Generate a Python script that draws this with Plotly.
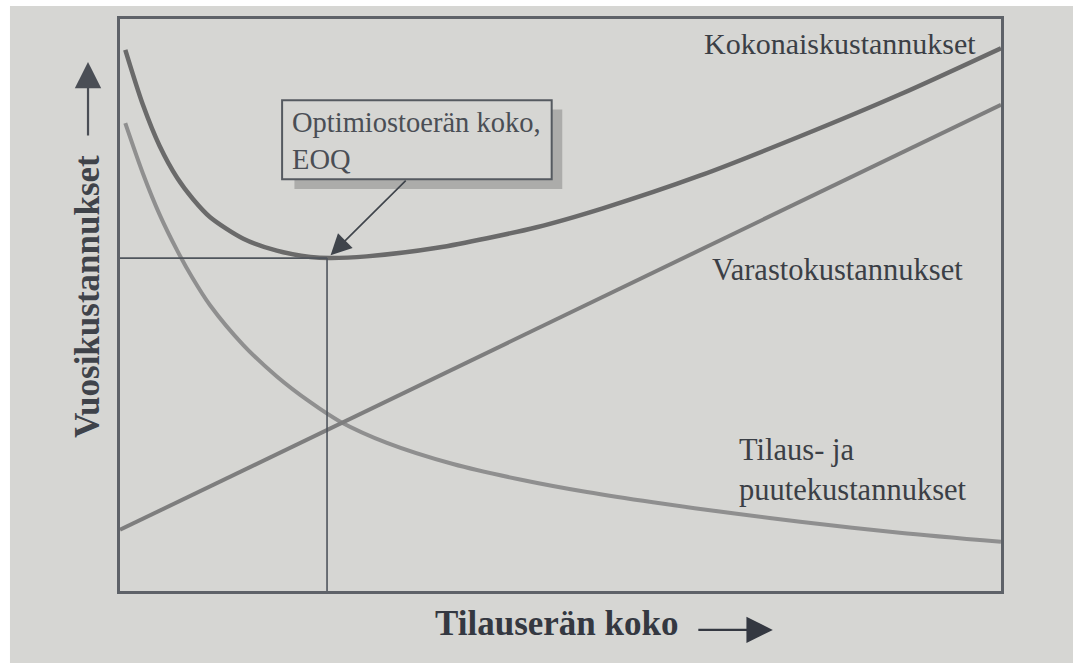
import plotly.graph_objects as go

# ---- data (x = order size 0..100, y = annual cost 0..100) ----
order_x = [0.6, 2.6, 4.5, 6.5, 8.2, 10.2, 14.0, 17.8, 21.6, 25.0, 30.3, 37.8, 45.4, 53.0, 60.5, 70.0, 77.2, 88.5, 100.0]
order_y = [81.8, 73.0, 65.8, 59.5, 54.8, 50.0, 43.0, 37.5, 33.0, 29.6, 25.9, 22.2, 19.5, 17.3, 15.5, 13.5, 12.1, 10.2, 8.6]

holding_x = [0.0, 23.5, 54.5, 77.2, 100.0]
holding_y = [10.7, 28.2, 51.2, 68.1, 85.0]

total_x = [0.6, 2.6, 4.5, 6.5, 8.3, 10.2, 14.0, 17.8, 21.6, 23.8, 28.0, 36.0, 47.3, 54.8, 65.8, 77.2, 88.5, 100.0]
total_y = [94.6, 85.0, 77.8, 72.2, 68.5, 65.4, 61.6, 59.5, 58.4, 58.2, 58.5, 60.0, 63.6, 66.9, 72.6, 79.5, 86.8, 94.9]

eoq_x = 23.5
eoq_y = 58.2

labels = ["Kokonaiskustannukset", "Varastokustannukset", "Tilaus- ja<br>puutekustannukset"]
box_text = "Optimiostoerän koko,<br>EOQ"
x_title = "Tilauserän koko"
y_title = "Vuosikustannukset"

BG = "#d6d6d3"
TXT = "#3b3f46"
SERIF = "Liberation Serif, Times New Roman, serif"

fig = go.Figure()
fig.add_trace(go.Scatter(x=order_x, y=order_y, mode="lines", line=dict(color="#8f8f8f", width=4, shape="spline", smoothing=0.8), hoverinfo="skip"))
fig.add_trace(go.Scatter(x=holding_x, y=holding_y, mode="lines", line=dict(color="#7e7e7e", width=4), hoverinfo="skip"))
fig.add_trace(go.Scatter(x=total_x, y=total_y, mode="lines", line=dict(color="#6a6a6a", width=4.5, shape="spline", smoothing=0.8), hoverinfo="skip"))

shapes = [
    # EOQ reference lines
    dict(type="line", xref="x", yref="y", x0=0, x1=eoq_x, y0=eoq_y, y1=eoq_y, line=dict(color="#4f555c", width=1.6)),
    dict(type="line", xref="x", yref="y", x0=eoq_x, x1=eoq_x, y0=0, y1=eoq_y, line=dict(color="#4f555c", width=1.6)),
    # label box shadow + box
    dict(type="rect", xref="x", yref="y", x0=19.8, x1=50.2, y0=70.3, y1=84.2, fillcolor="#acacaa", line=dict(width=0), layer="above"),
    dict(type="rect", xref="x", yref="y", x0=18.4, x1=49.0, y0=72.0, y1=85.8, fillcolor=BG, line=dict(color="#555a60", width=2), layer="above"),
    # white photo edges
    dict(type="rect", xref="paper", yref="paper", x0=-0.2, x1=-0.1249, y0=-0.2, y1=1.2, fillcolor="white", line=dict(width=0)),
    dict(type="rect", xref="paper", yref="paper", x0=-0.2, x1=1.2, y0=1.0227, y1=1.2, fillcolor="white", line=dict(width=0)),
]

annotations = [
    dict(x=66.1, y=95.8, xref="x", yref="y", text=labels[0], showarrow=False, xanchor="left", yanchor="middle",
         font=dict(family=SERIF, size=30, color=TXT)),
    dict(x=67.0, y=56.1, xref="x", yref="y", text=labels[1], showarrow=False, xanchor="left", yanchor="middle",
         font=dict(family=SERIF, size=30.5, color=TXT)),
    dict(x=70.0, y=21.2, xref="x", yref="y", text=labels[2], showarrow=False, xanchor="left", yanchor="middle", align="left",
         font=dict(family=SERIF, size=30.5, color=TXT)),
    dict(x=19.3, y=78.7, xref="x", yref="y", text=box_text, showarrow=False, xanchor="left", yanchor="middle", align="left",
         font=dict(family=SERIF, size=28.5, color="#4a4e55")),
    # EOQ arrow
    dict(x=23.9, y=58.7, xref="x", yref="y", ax=32.6, ay=72.0, axref="x", ayref="y", text="", showarrow=True,
         arrowhead=2, arrowsize=2.6, arrowwidth=1.6, arrowcolor="#3f444b"),
    # axis titles
    dict(x=0.495, y=-0.056, xref="paper", yref="paper", text="<b>" + x_title + "</b>", showarrow=False,
         xanchor="center", yanchor="middle", font=dict(family=SERIF, size=35, color="#343841")),
    dict(x=0.741, y=-0.068, xref="paper", yref="paper", ax=-76, ay=0, text="", showarrow=True,
         arrowhead=2, arrowsize=2.4, arrowwidth=2.2, arrowcolor="#343841"),
    dict(x=-0.0363, y=0.514, xref="paper", yref="paper", text="<b>" + y_title + "</b>", showarrow=False, textangle=-90,
         xanchor="center", yanchor="middle", font=dict(family=SERIF, size=35, color="#3f434a")),
    dict(x=-0.0363, y=0.925, xref="paper", yref="paper", ax=0, ay=75, text="", showarrow=True,
         arrowhead=2, arrowsize=2.4, arrowwidth=2.2, arrowcolor="#4a4e55"),
]

fig.update_layout(
    width=1073, height=663,
    margin=dict(l=120, r=72, t=19, b=72),
    paper_bgcolor=BG, plot_bgcolor=BG,
    showlegend=False,
    shapes=shapes, annotations=annotations,
)
axis_common = dict(showgrid=False, zeroline=False, showticklabels=False, ticks="",
                   showline=True, mirror=True, linecolor="#5e6268", linewidth=3)
fig.update_xaxes(range=[0, 100], **axis_common)
fig.update_yaxes(range=[0, 100], **axis_common)

fig.write_html(
    "out.html",
    config={"displayModeBar": False},
    post_script="document.body.style.margin='0';document.body.style.padding='0';document.body.style.overflow='hidden';",
)
